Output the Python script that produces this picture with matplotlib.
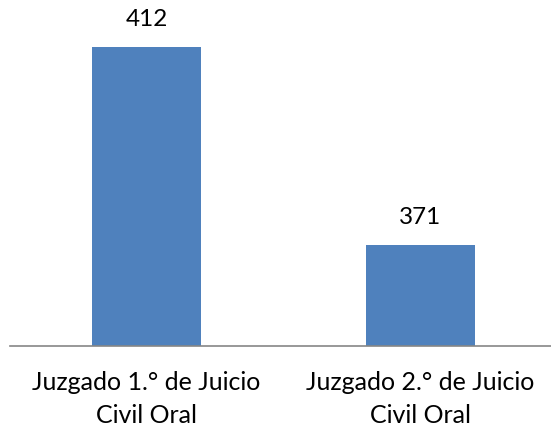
import matplotlib
matplotlib.use("Agg")
import matplotlib.pyplot as plt

categories = ["Juzgado 1.° de Juicio\nCivil Oral", "Juzgado 2.° de Juicio\nCivil Oral"]
values = [412, 371]

plt.rcParams['font.family'] = ['Lato', 'DejaVu Sans']

fig = plt.figure(figsize=(5.51, 4.30), dpi=100)
ax = fig.add_axes([10/551, (430-346)/430, 541/551, 338/430])
x = [0, 1]
ax.bar(x, values, width=0.398, color="#4F81BD", bottom=0)
ax.set_ylim(350, 420)
ax.set_xlim(-0.498, 1.476)
for xi, v in zip(x, values):
    ax.annotate(str(v), (xi, v), xytext=(0, 19.5), textcoords="offset points",
                ha="center", va="center", fontsize=17.5, color="#000000")
ax.set_xticks(x)
ax.set_xticklabels(categories, fontsize=18, linespacing=1.55)
ax.tick_params(axis='x', length=0, pad=18)
ax.set_yticks([])
for s in ["top", "right", "left"]:
    ax.spines[s].set_visible(False)
ax.spines["bottom"].set_color("#868686")
ax.spines["bottom"].set_linewidth(1.2)
fig.savefig("out.png", dpi=100)
